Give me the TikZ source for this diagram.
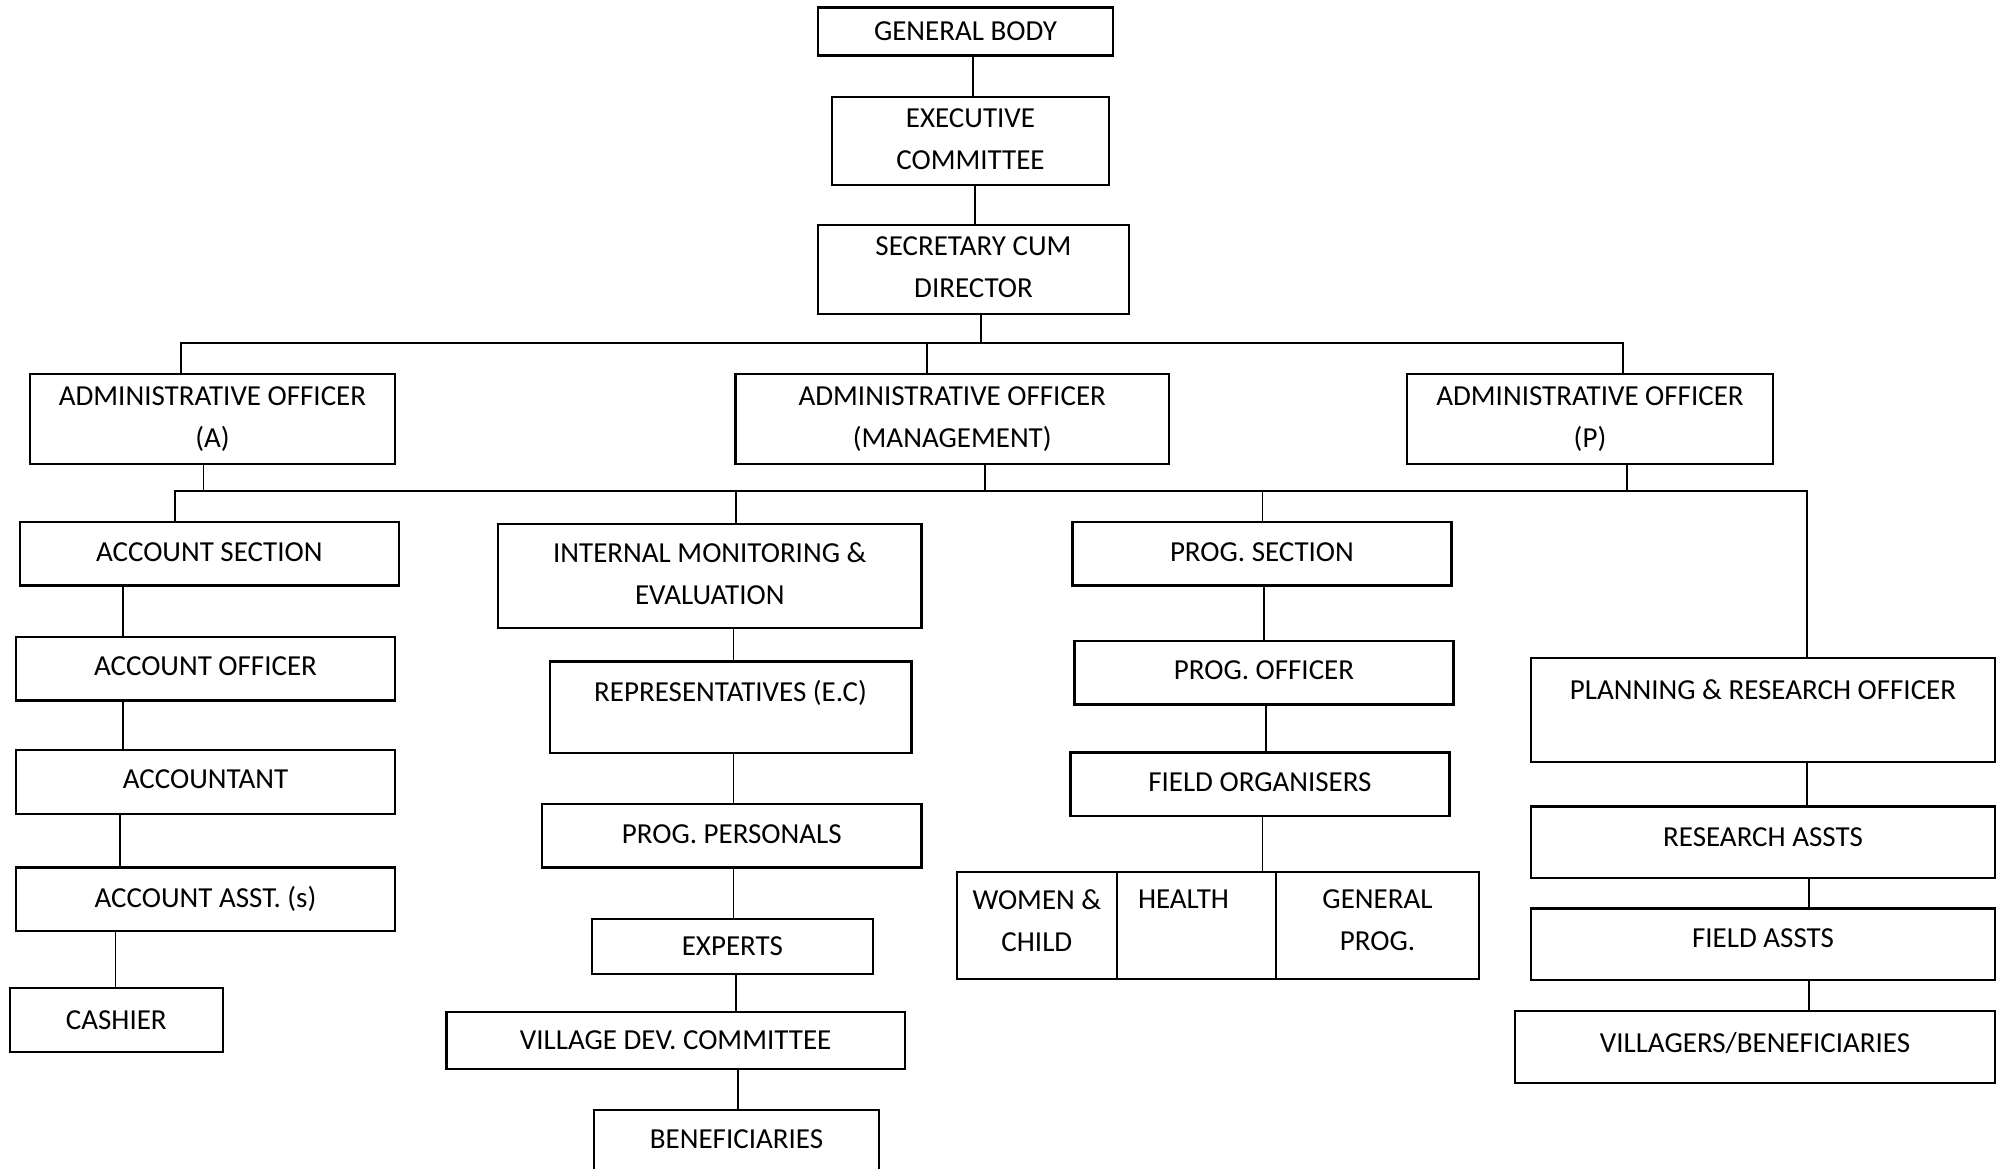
\documentclass[tikz,border=0pt]{standalone}
\usepackage{fontspec}
\setmainfont{Carlito}
\newcommand\lift[1]{\rule[-#1]{0pt}{0pt}}
\begin{document}
\begin{tikzpicture}[x=0.5pt,y=-0.5pt,
  box/.style={draw=black,line width=1.1pt,inner sep=0pt,outer sep=0pt,align=center,
    font=\fontsize{14.5pt}{21pt}\selectfont},
  conn/.style={draw=black,line width=0.8pt},
  bus/.style={draw=black,line width=1pt}]
\newcommand\ob[6][]{\node[box,#1,minimum width={(#4-#2)*0.5pt},minimum height={(#5-#3)*0.5pt}] (#6) at ({(#2+#4)/2},{(#3+#5)/2})}
\useasboundingbox (0,0) rectangle (2005,1169);
% top
\ob{818}{7.5}{1113}{55.5}{gb} {GENERAL BODY};
\ob{832}{97}{1109}{185}{ec} {EXECUTIVE\\COMMITTEE\lift{2pt}};
\ob{818}{225}{1129}{314}{scd} {SECRETARY CUM\\DIRECTOR\lift{2pt}};
\ob{30}{374}{395}{464}{aoa} {ADMINISTRATIVE OFFICER\\(A)};
\ob{735.5}{374}{1169}{464}{aom} {ADMINISTRATIVE OFFICER\\(MANAGEMENT)};
\ob{1407}{374}{1773}{464}{aop} {ADMINISTRATIVE OFFICER\\(P)};
% account column
\ob{20}{522}{398.6}{585.5}{acs} {ACCOUNT SECTION\lift{1.5pt}};
\ob{16}{637}{395}{700.5}{aco} {ACCOUNT OFFICER\lift{2.5pt}};
\ob{16}{750}{395}{814}{acc} {ACCOUNTANT\lift{2.5pt}};
\ob{16}{867.5}{395}{931}{aca} {ACCOUNT ASST. (s)};
\ob{9.6}{988}{223}{1052}{cash} {CASHIER};
% monitoring column
\ob{498}{524}{921.5}{627.6}{ime} {INTERNAL MONITORING \&\\EVALUATION\lift{2pt}};
\ob{549.7}{661.5}{911.4}{752.8}{rep} {REPRESENTATIVES (E.C)\\[-5pt] \mbox{}};
\ob{542}{804}{921.5}{867.5}{ppl} {PROG. PERSONALS\lift{1.5pt}};
\ob{591.8}{919}{873}{974}{exp} {EXPERTS};
\ob{446.4}{1011.6}{905}{1069}{vdc} {VILLAGE DEV. COMMITTEE};
\ob[draw=none]{594}{1110}{879}{1169}{ben} {BENEFICIARIES};
\draw[line width=1.1pt] (ben.south west) -- (ben.north west) -- (ben.north east) -- (ben.south east);
% programme column
\ob{1072.4}{522}{1451.5}{585.5}{pse} {PROG. SECTION\lift{1.5pt}};
\ob{1074.5}{641}{1453.5}{704.5}{pof} {PROG. OFFICER\lift{2.5pt}};
\ob{1070.4}{752.4}{1449.4}{816}{fo} {FIELD ORGANISERS\lift{2.5pt}};
\ob{957}{872}{1116.7}{979}{wc} {WOMEN \&\\CHILD\lift{5pt}};
\ob[align=left,text width=58.35pt]{1116.7}{872}{1276}{979}{hl} {HEALTH\\ \lift{5pt}};
\ob{1276}{872}{1479}{979}{gp} {GENERAL\\PROG.\lift{5pt}};
% planning column
\ob{1531}{658}{1995}{762}{pro} {PLANNING \& RESEARCH OFFICER\\[-1pt] \mbox{}};
\ob{1531}{806.4}{1995}{877.6}{ra} {RESEARCH ASSTS\lift{5pt}};
\ob{1531}{908.4}{1995}{979.6}{fa} {FIELD ASSTS\lift{6pt}};
\ob{1515}{1011}{1995}{1083}{vb} {VILLAGERS/BENEFICIARIES\lift{5pt}};
% junction coordinates
\coordinate (j1) at (981,342.7);
\coordinate (b1l) at (181,342.7);
\coordinate (b1m) at (927,342.7);
\coordinate (b1r) at (1622.5,342.7);
\coordinate (j2a) at (203.6,490.7);
\coordinate (j2m) at (985,490.7);
\coordinate (j2p) at (1627,490.7);
\coordinate (b2l) at (174.5,490.7);
\coordinate (b2i) at (736,490.7);
\coordinate (b2p) at (1262.6,490.7);
\coordinate (b2r) at (1806.7,490.7);
% connectors
\draw[conn] (gb.south -| 972.7,0) -- (ec.north -| 972.7,0);
\draw[conn] (ec.south -| 975,0) -- (scd.north -| 975,0);
\draw[conn] (scd.south -| j1) -- (j1);
\draw[bus] (aoa.north -| b1l) -- (b1l) -- (b1r) -- (aop.north -| b1r);
\draw[conn] (b1m) -- (aom.north -| b1m);
\draw[conn] (aoa.south -| j2a) -- (j2a);
\draw[conn] (aom.south -| j2m) -- (j2m);
\draw[conn] (aop.south -| j2p) -- (j2p);
\draw[bus] (acs.north -| b2l) -- (b2l) -- (b2r) -- (pro.north -| b2r);
\draw[conn] (b2i) -- (ime.north -| b2i);
\draw[conn] (b2p) -- (pse.north -| b2p);
% account
\draw[conn] (acs.south -| 123,0) -- (aco.north -| 123,0);
\draw[conn] (aco.south -| 123,0) -- (acc.north -| 123,0);
\draw[conn] (acc.south -| 120,0) -- (aca.north -| 120,0);
\draw[conn] (aca.south -| 115.4,0) -- (cash.north -| 115.4,0);
% monitoring
\draw[conn] (ime.south -| 733.4,0) -- (rep.north -| 733.4,0);
\draw[conn] (rep.south -| 733.4,0) -- (ppl.north -| 733.4,0);
\draw[conn] (ppl.south -| 733.4,0) -- (exp.north -| 733.4,0);
\draw[conn] (exp.south -| 736,0) -- (vdc.north -| 736,0);
\draw[conn] (vdc.south -| 738,0) -- (ben.north -| 738,0);
% programme
\draw[conn] (pse.south -| 1264,0) -- (pof.north -| 1264,0);
\draw[conn] (pof.south -| 1266,0) -- (fo.north -| 1266,0);
\draw[conn] (fo.south -| 1262.6,0) -- (hl.north -| 1262.6,0);
% planning
\draw[conn] (pro.south -| 1806.7,0) -- (ra.north -| 1806.7,0);
\draw[conn] (ra.south -| 1808.7,0) -- (fa.north -| 1808.7,0);
\draw[conn] (fa.south -| 1808.7,0) -- (vb.north -| 1808.7,0);
\end{tikzpicture}
\end{document}
